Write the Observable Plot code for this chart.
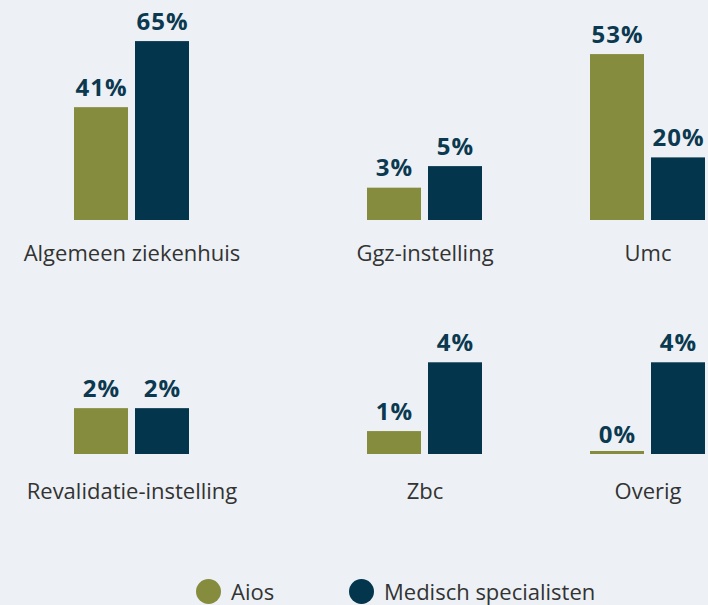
<!DOCTYPE html>
<html>
<head>
<meta charset="utf-8">
<script src="https://cdn.jsdelivr.net/npm/d3@7"></script>
<script src="https://cdn.jsdelivr.net/npm/@observablehq/plot@0.6"></script>
<style>
  html, body { margin: 0; padding: 0; background: #edf1f5; }
  #chart { position: relative; width: 708px; height: 605px; background: #edf1f5; font-family: "Open Sans", "Noto Sans", sans-serif; overflow: hidden; }
  .panel { position: absolute; }
  .legend { position: absolute; top: 576px; left: 0; width: 708px; height: 30px; font-size: 22px; color: #333; }
  .legend .item { position: absolute; top: 0; display: flex; align-items: center; height: 30px; }
  .legend .dot { width: 25px; height: 25px; border-radius: 50%; margin-right: 10px; }
</style>
</head>
<body>
<div id="chart"></div>
<script>
// ---- data ----
const categories = ["Algemeen ziekenhuis", "Ggz-instelling", "Umc", "Revalidatie-instelling", "Zbc", "Overig"];
const series = ["Aios", "Medisch specialisten"];
const aiosValues = [41, 3, 53, 2, 1, 0];
const specialistValues = [65, 5, 20, 2, 4, 4];

// ---- layout / styling (not data) ----
const colors = ["#868c3e", "#03354c"];
const labelColor = "#0b3950";
const yTop = [65.4, 16.7, 57.5, 4.1, 4.1, 4.1];   // per-panel y-scale domain top
const panelLeft = [0, 293, 543, 0, 293, 543];
const panelWidth = [293, 250, 165, 293, 250, 165];
const panelMarginLeft = [74, 74, 47, 74, 74, 47];
const rowTop = [0, 300];
const rowHeight = [280, 220];
const rowMarginTop = [40, 60];
const rowMarginBottom = [60, 66];
const rowLabelDy = [40, 44];

const chart = document.getElementById("chart");

categories.forEach((cat, i) => {
  const row = i < 3 ? 0 : 1;
  const data = series.map((s, j) => ({series: s, value: j === 0 ? aiosValues[i] : specialistValues[i]}));
  const bandWidth = 115;
  const ml = panelMarginLeft[i];
  const plot = Plot.plot({
    width: panelWidth[i],
    height: rowHeight[row],
    marginTop: rowMarginTop[row],
    marginBottom: rowMarginBottom[row],
    marginLeft: ml,
    marginRight: panelWidth[i] - ml - bandWidth,
    style: {background: "transparent", fontFamily: "'Open Sans', 'Noto Sans', sans-serif", overflow: "visible"},
    x: {type: "band", domain: series, paddingInner: 7 / 61, paddingOuter: 0, axis: null},
    y: {domain: [0, yTop[i]], axis: null},
    color: {domain: series, range: colors},
    marks: [
      Plot.barY(data, {x: "series", y: "value", fill: "series"}),
      Plot.barY(data.filter(d => d.value === 0), {x: "series", y: "value", fill: "series", insetTop: -3}),
      Plot.text(data, {x: "series", y: "value", text: d => d.value + "%", dy: -12, lineAnchor: "bottom",
        fontSize: 24, fontWeight: 700, fill: labelColor}),
      Plot.text([cat], {frameAnchor: "bottom", text: d => d, dy: rowLabelDy[row], lineAnchor: "bottom",
        fontSize: 22, fill: "#333333"})
    ]
  });
  plot.querySelectorAll('g[font-weight="700"] text, text[font-weight="700"]').forEach(t => { t.style.letterSpacing = "1px"; });
  const div = document.createElement("div");
  div.className = "panel";
  div.style.left = panelLeft[i] + "px";
  div.style.top = rowTop[row] + "px";
  div.appendChild(plot);
  chart.appendChild(div);
});

// legend
const legend = document.createElement("div");
legend.className = "legend";
const legendLeft = [196, 349];
series.forEach((s, j) => {
  const item = document.createElement("div");
  item.className = "item";
  item.style.left = legendLeft[j] + "px";
  const dot = document.createElement("span");
  dot.className = "dot";
  dot.style.background = colors[j];
  const txt = document.createElement("span");
  txt.textContent = s;
  item.appendChild(dot);
  item.appendChild(txt);
  legend.appendChild(item);
});
chart.appendChild(legend);
</script>
</body>
</html>
